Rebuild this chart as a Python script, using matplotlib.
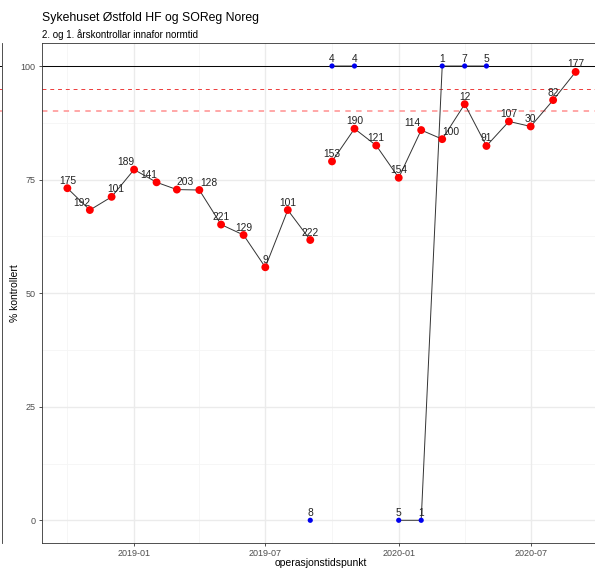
import matplotlib
matplotlib.use("Agg")
import matplotlib.pyplot as plt
import matplotlib.dates as mdates
import numpy as np
import pandas as pd

plt.rcParams['font.family'] = ['Liberation Sans', 'DejaVu Sans']

# ---- data ----
months_g1 = ["2018-10", "2018-11", "2018-12", "2019-01", "2019-02", "2019-03",
             "2019-04", "2019-05", "2019-06", "2019-07", "2019-08", "2019-09"]
pct_g1 = [73.1, 68.3, 71.2, 77.2, 74.4, 72.8, 72.7, 65.1, 62.8, 55.7, 68.3, 61.7]
n_g1 = [175, 192, 101, 189, 141, 203, 128, 221, 129, 9, 101, 222]

months_g2 = ["2019-10", "2019-11", "2019-12", "2020-01", "2020-02", "2020-03",
             "2020-04", "2020-05", "2020-06", "2020-07", "2020-08", "2020-09"]
pct_g2 = [79.0, 86.2, 82.5, 75.4, 85.9, 83.9, 91.6, 82.4, 87.8, 86.7, 92.5, 98.7]
n_g2 = [153, 190, 121, 154, 114, 100, 12, 91, 107, 30, 82, 177]

# small-group series (blue); None = no value that month
blue_months = ["2019-09", "2019-10", "2019-11", "2019-12", "2020-01", "2020-02",
               "2020-03", "2020-04", "2020-05"]
blue_pct = [0, 100, 100, None, 0, 0, 100, 100, 100]
blue_n = [8, 4, 4, None, 5, 1, 1, 7, 5]
blue_groups = [1, 2, 2, 2, 2, 2, 2, 2, 2]

# label nudges (pixels) for repelled labels
dx_g1 = [0, -8, 4, -8, -8, 8, 9, 0, 0, 0, 0, 0]
dx_g2 = [0, 0, 0, 0, -9, 9, 0, 0, 0, 0, 0, 0]

ref_levels = [100, 95, 90]
x_ticks = ["2019-01", "2019-07", "2020-01", "2020-07"]
x_minor = ["2018-10", "2019-04", "2019-10", "2020-04"]
y_ticks = [0, 25, 50, 75, 100]
y_minor = [12.5, 37.5, 62.5, 87.5]

title = "Sykehuset Østfold HF og SOReg Noreg"
subtitle = "2. og 1. årskontrollar innafor normtid"
ylab = "% kontrollert"
xlab = "operasjonstidspunkt"

# ---- figure ----
W, H = 595, 568
fig = plt.figure(figsize=(W / 100, H / 100), dpi=100)

left_px, right_px, top_px, bot_px = 42, 601, 43.3, 543
ax = fig.add_axes([left_px / W, 1 - bot_px / H, (right_px - left_px) / W, (bot_px - top_px) / H])

def d(s):
    return pd.Timestamp(s + "-01") if len(s) == 7 else pd.Timestamp(s)

ax.set_xlim(d("2018-08-27"), d("2020-10-06"))
ax.set_ylim(-5, 105)

# grid
for m in x_minor:
    ax.axvline(d(m), color="#F5F5F5", lw=0.6, zorder=0)
for m in y_minor:
    ax.axhline(m, color="#F5F5F5", lw=0.6, zorder=0)
for m in x_ticks:
    ax.axvline(d(m), color="#EBEBEB", lw=1.0, zorder=0)
for m in y_ticks:
    ax.axhline(m, color="#EBEBEB", lw=1.0, zorder=0)

# reference lines
ax.axhline(ref_levels[0], color="black", lw=0.7, zorder=1)
ax.axhline(ref_levels[1], color="#EE3B3B", lw=0.7, ls=(0, (4, 4)), zorder=1)
ax.axhline(ref_levels[2], color="#FFA0A0", lw=1.3, ls=(0, (3, 3)), zorder=1)

line_col = "#333333"
# red series lines
for months, pct in [(months_g1, pct_g1), (months_g2, pct_g2)]:
    xs = [d(m) for m in months]
    ax.plot(xs, pct, color=line_col, lw=0.7, zorder=2)

# blue series lines (broken at missing values / groups)
bx = [d(m) for m in blue_months]
by = [np.nan if v is None else v for v in blue_pct]
for g in sorted(set(blue_groups)):
    idx = [i for i, gg in enumerate(blue_groups) if gg == g]
    ax.plot([bx[i] for i in idx], [by[i] for i in idx], color=line_col, lw=0.7, zorder=2)

# points
for months, pct in [(months_g1, pct_g1), (months_g2, pct_g2)]:
    ax.scatter([d(m) for m in months], pct, s=32, color="#FF0000", edgecolors="none", zorder=3)
ax.scatter([bx[i] for i in range(len(bx)) if blue_pct[i] is not None],
           [v for v in blue_pct if v is not None], s=14, color="#0000EE",
           edgecolors="none", zorder=3)

# labels
lab_kw = dict(textcoords="offset pixels", ha="center", va="center",
              fontsize=7.4, color="#222222", zorder=4)
for months, pct, ns, dxs in [(months_g1, pct_g1, n_g1, dx_g1), (months_g2, pct_g2, n_g2, dx_g2)]:
    for m, p, n, dx in zip(months, pct, ns, dxs):
        ax.annotate(str(n), (d(m), p), xytext=(dx, 7.5), **lab_kw)
for m, p, n in zip(blue_months, blue_pct, blue_n):
    if p is None:
        continue
    ax.annotate(str(n), (d(m), p), xytext=(0, 7.5), **lab_kw)

# axes styling
ax.set_xticks([d(m) for m in x_ticks])
ax.xaxis.set_major_formatter(mdates.DateFormatter("%Y-%m"))
ax.set_yticks(y_ticks)
ax.tick_params(axis="both", colors="#333333", labelcolor="#4D4D4D", labelsize=6.5,
               length=2.5, width=0.6, pad=2)
for sp in ax.spines.values():
    sp.set_color("#333333")
    sp.set_linewidth(0.6)

fig.text(321 / W, 1 - 562.5 / H, xlab, fontsize=7.5, ha="center", va="center", color="black")
fig.text(15 / W, 1 - 293 / H, ylab, fontsize=7.5, ha="center", va="center",
         rotation=90, color="black")

fig.text(42 / W, 1 - 18 / H, title, fontsize=8.8, ha="left", va="center", color="black")
fig.text(42 / W, 1 - 35 / H, subtitle, fontsize=7, ha="left", va="center", color="black")

# fragment of neighbouring panel at the far left edge
ax0 = fig.add_axes([-100 / W, 1 - bot_px / H, 101.5 / W, (bot_px - top_px) / H])
ax0.set_ylim(-5, 105)
ax0.set_xlim(0, 1)
ax0.axhline(100, color="black", lw=0.7)
ax0.axhline(95, color="#EE3B3B", lw=0.7, ls=(0, (4, 4)))
ax0.axhline(90, color="#FFA0A0", lw=1.3, ls=(0, (3, 3)))
ax0.set_xticks([])
ax0.set_yticks([])
for k, sp in ax0.spines.items():
    sp.set_visible(k == "right")
    sp.set_color("#333333")
    sp.set_linewidth(0.6)

fig.savefig("out.png", dpi=100)
